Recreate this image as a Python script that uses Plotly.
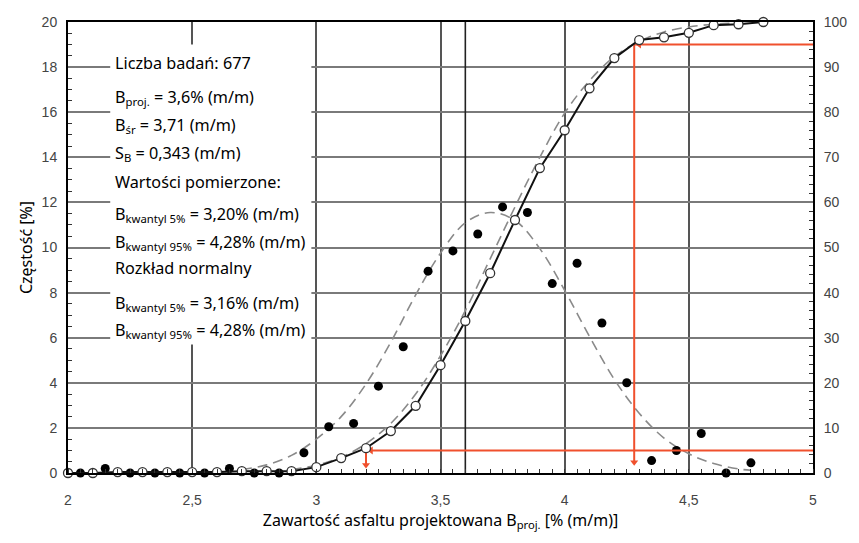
import plotly.graph_objects as go

# ---------------- data ----------------
# histogram frequencies (left axis, %) at bin centres
freq_x = [2.05, 2.15, 2.25, 2.35, 2.45, 2.55, 2.65, 2.75, 2.85, 2.95,
          3.05, 3.15, 3.25, 3.35, 3.45, 3.55, 3.65, 3.75, 3.85, 3.95,
          4.05, 4.15, 4.25, 4.35, 4.45, 4.55, 4.65, 4.75]
freq_y = [0.0, 0.2, 0.0, 0.0, 0.0, 0.0, 0.2, 0.0, 0.0, 0.9,
          2.05, 2.2, 3.85, 5.6, 8.95, 9.85, 10.6, 11.8, 11.55, 8.4,
          9.3, 6.65, 4.0, 0.55, 1.0, 1.75, 0.0, 0.45]

# cumulative frequency (right axis, %) at bin edges
cum_x = [2.0, 2.1, 2.2, 2.3, 2.4, 2.5, 2.6, 2.7, 2.8, 2.9,
         3.0, 3.1, 3.2, 3.3, 3.4, 3.5, 3.6, 3.7, 3.8, 3.9,
         4.0, 4.1, 4.2, 4.3, 4.4, 4.5, 4.6, 4.7, 4.8]
cum_y = [0.0, 0.0, 0.2, 0.2, 0.2, 0.2, 0.2, 0.4, 0.4, 0.4,
         1.3, 3.3, 5.5, 9.3, 14.9, 23.9, 33.7, 44.3, 56.1, 67.6,
         76.0, 85.3, 92.0, 96.0, 96.6, 97.6, 99.3, 99.5, 100.0]

# normal distribution curve, frequency (left axis, %)
npdf_x = [2.7, 2.8, 2.9, 3.0, 3.1, 3.2, 3.3, 3.4, 3.5, 3.6, 3.7, 3.8,
          3.9, 4.0, 4.1, 4.2, 4.3, 4.4, 4.5, 4.6, 4.7, 4.75]
npdf_y = [0.15, 0.36, 0.78, 1.5, 2.5, 3.95, 5.8, 7.9, 9.75, 11.1, 11.55, 11.2,
          9.95, 8.1, 6.05, 4.15, 2.65, 1.55, 0.85, 0.42, 0.18, 0.12]

# normal distribution, cumulative (right axis, %)
ncdf_x = [2.9, 3.0, 3.1, 3.2, 3.3, 3.4, 3.5, 3.6, 3.7, 3.8,
          3.9, 4.0, 4.1, 4.2, 4.3, 4.4, 4.5, 4.6, 4.7]
ncdf_y = [0.8, 1.7, 3.5, 6.5, 11.0, 17.5, 26.0, 36.0, 47.5, 59.0,
          70.0, 79.8, 87.0, 92.3, 95.7, 97.8, 98.9, 99.5, 99.8]

b_proj = 3.6
q_low, q_high = 3.20, 4.28      # measured 5% / 95% quantiles
p_low, p_high = 5, 95           # percent levels

x_ticks = [2, 2.5, 3, 3.5, 4, 4.5, 5]
x_ticktext = ["2", "2,5", "3", "3,5", "4", "4,5", "5"]

info_lines = [
    "Liczba badań: 677",
    "B<sub>proj.</sub> = 3,6% (m/m)",
    "B<sub>śr</sub> = 3,71 (m/m)",
    "S<sub>B</sub> = 0,343 (m/m)",
    "Wartości pomierzone:",
    "B<sub>kwantyl 5%</sub> = 3,20% (m/m)",
    "B<sub>kwantyl 95%</sub> = 4,28% (m/m)",
    "Rozkład normalny",
    "B<sub>kwantyl 5%</sub> = 3,16% (m/m)",
    "B<sub>kwantyl 95%</sub> = 4,28% (m/m)",
]
info_y = [18.17, 16.66, 15.43, 14.19, 12.92, 11.45, 10.24, 9.09, 7.51, 6.31]

RED = "#f0502d"
TXT_FONT = "Noto Sans"

fig = go.Figure()

# design value vertical line
fig.add_trace(go.Scatter(x=[b_proj, b_proj], y=[0, 20], mode="lines",
                         line=dict(color="#222", width=1.6), hoverinfo="skip", showlegend=False))

# red quantile guide lines
fig.add_trace(go.Scatter(x=[5, q_low, q_low], y=[p_low, p_low, 1.6], yaxis="y2", mode="lines",
                         line=dict(color=RED, width=2), showlegend=False))
fig.add_trace(go.Scatter(x=[5, q_high, q_high], y=[p_high, p_high, 2.2], yaxis="y2", mode="lines",
                         line=dict(color=RED, width=2), showlegend=False))
fig.add_trace(go.Scatter(x=[q_low + 0.02, q_high + 0.02], y=[p_low, p_high], yaxis="y2", mode="markers",
                         marker=dict(symbol="triangle-left", size=7, color=RED), showlegend=False,
                         cliponaxis=False))
fig.add_trace(go.Scatter(x=[q_low, q_high], y=[1.8, 2.4], yaxis="y2", mode="markers",
                         marker=dict(symbol="triangle-down", size=7, color=RED), showlegend=False,
                         cliponaxis=False))

# normal curves (dashed)
fig.add_trace(go.Scatter(x=npdf_x, y=npdf_y, mode="lines", line_shape="spline",
                         line=dict(color="#8a8a8a", width=1.6, dash="10px,6px"), showlegend=False))
fig.add_trace(go.Scatter(x=ncdf_x, y=ncdf_y, yaxis="y2", mode="lines", line_shape="spline",
                         line=dict(color="#8a8a8a", width=1.6, dash="10px,6px"), showlegend=False))

# cumulative measured
fig.add_trace(go.Scatter(x=cum_x, y=cum_y, yaxis="y2", mode="lines+markers",
                         line=dict(color="#111", width=2),
                         marker=dict(symbol="circle", size=9, color="white",
                                     line=dict(color="#333", width=1.3)),
                         cliponaxis=False, showlegend=False))

# histogram points
fig.add_trace(go.Scatter(x=freq_x, y=freq_y, mode="markers",
                         marker=dict(symbol="circle", size=9, color="black"),
                         cliponaxis=False, showlegend=False))

# white box behind info text
fig.add_shape(type="rect", xref="x", yref="y", x0=2.17, x1=2.98, y0=5.7, y1=19.0,
              fillcolor="white", line=dict(width=0), layer="between")

for t, yy in zip(info_lines, info_y):
    fig.add_annotation(x=2.18, y=yy, xref="x", yref="y", text=t, showarrow=False,
                       xanchor="left", yanchor="middle",
                       font=dict(family=TXT_FONT, size=16.2, color="black"))

tickfont = dict(family="Liberation Sans", size=14, color="#444")

fig.update_layout(
    width=859, height=543,
    margin=dict(l=68, r=44, t=22, b=70),
    plot_bgcolor="white", paper_bgcolor="white",
    xaxis=dict(range=[2, 5], tickvals=x_ticks, ticktext=x_ticktext,
               showgrid=True, gridcolor="#555", gridwidth=1.6,
               showline=True, linecolor="black", linewidth=2, mirror=True,
               ticks="", zeroline=False, tickfont=tickfont, ticklabelstandoff=13,
               minor=dict(ticks="inside", ticklen=4, dtick=0.05, tickcolor="#333", showgrid=False),
               title=dict(text="Zawartość asfaltu projektowana B<sub>proj.</sub> [% (m/m)]",
                          font=dict(family=TXT_FONT, size=16, color="black"), standoff=8)),
    yaxis=dict(range=[0, 20], dtick=2, showgrid=True, gridcolor="#7a7a7a", gridwidth=2,
               showline=True, linecolor="black", linewidth=2, mirror=True,
               ticks="", zeroline=False, tickfont=tickfont, ticklabelstandoff=6,
               minor=dict(ticks="inside", ticklen=4, dtick=0.5, tickcolor="#333", showgrid=False),
               title=dict(text="Częstość [%]", font=dict(family=TXT_FONT, size=16, color="black"),
                          standoff=5)),
    yaxis2=dict(range=[0, 100], dtick=10, overlaying="y", side="right", showgrid=False,
                showline=True, linecolor="black", linewidth=2, zeroline=False,
                ticks="", tickfont=tickfont, ticklabelstandoff=6,
                minor=dict(ticks="inside", ticklen=4, dtick=2, tickcolor="#333", showgrid=False)),
)

fig.write_html("out.html")
